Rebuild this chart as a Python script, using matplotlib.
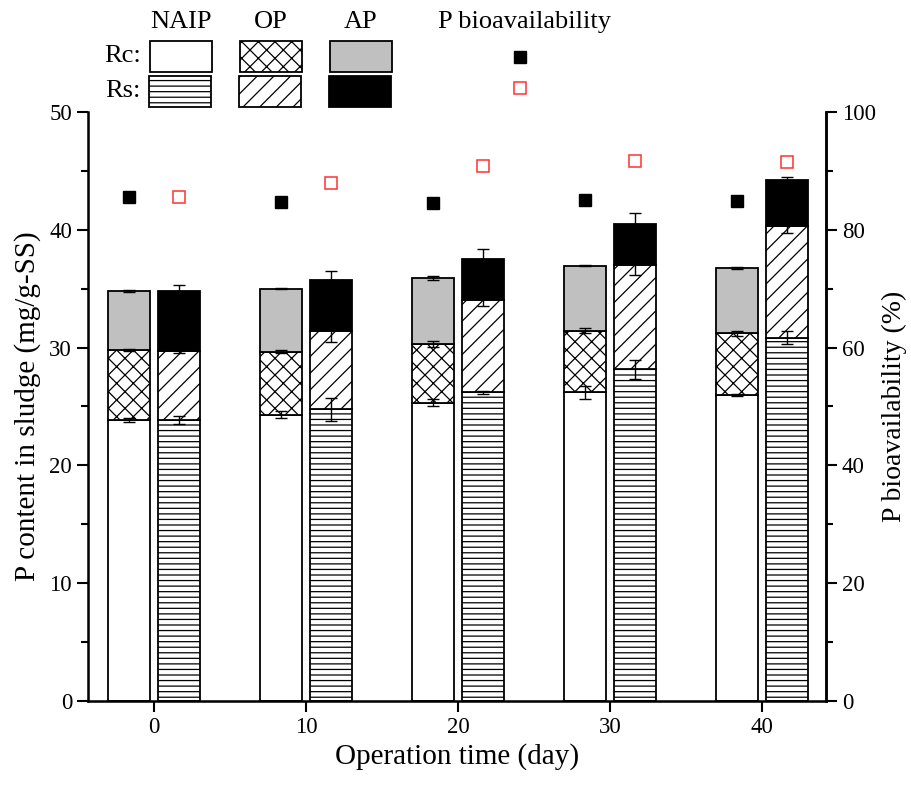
"""
Stacked P fractions in sludge (Rc vs Rs) with P bioavailability on a twin axis
"""

import numpy as np
import matplotlib
matplotlib.use('Agg')
import matplotlib.pyplot as plt
import matplotlib.patches as patches
from matplotlib.lines import Line2D
from matplotlib.ticker import MultipleLocator

plt.rcParams['font.family'] = ['Liberation Serif', 'DejaVu Serif']
plt.rcParams['hatch.linewidth'] = 0.9

# Data (mg/g-SS)
days = np.array([0, 10, 20, 30, 40])

rc_naip = [23.85, 24.3, 25.3, 26.2, 26.0]
rc_op = [5.95, 5.35, 5.0, 5.25, 5.2]
rc_ap = [5.03, 5.35, 5.6, 5.5, 5.55]
rs_naip = [23.85, 24.76, 26.2, 28.15, 30.85]
rs_op = [5.85, 6.64, 7.8, 8.85, 9.5]
rs_ap = [5.13, 4.34, 3.5, 3.5, 3.85]

rc_naip_err = [0.15, 0.3, 0.3, 0.55, 0.1]
rc_op_err = [0.1, 0.15, 0.25, 0.25, 0.2]
rc_ap_err = [0.1, 0.05, 0.2, 0.05, 0.1]
rs_naip_err = [0.3, 1.0, 0.15, 0.8, 0.55]
rs_op_err = [0.2, 0.9, 0.5, 0.85, 0.6]
rs_ap_err = [0.5, 0.75, 0.85, 0.9, 0.25]

# P bioavailability (%)
rc_bio = [85.5, 84.7, 84.5, 85.1, 84.9]
rs_bio = [85.5, 88.0, 90.8, 91.6, 91.5]

fig = plt.figure(figsize=(9.11, 7.87), dpi=100)
ax = fig.add_axes([0.0966, 0.1093, 0.8101, 0.7484])

width = 2.75
off = 1.65
edge = dict(edgecolor='black', linewidth=1.3)

# Rc stack
x_rc = days - off
ax.bar(x_rc, rc_naip, width, color='white', **edge, zorder=2)
ax.bar(x_rc, rc_op, width, bottom=rc_naip, color='white', hatch='xx', **edge, zorder=2)
rc_cum = np.array(rc_naip) + np.array(rc_op)
ax.bar(x_rc, rc_ap, width, bottom=rc_cum, color='#c0c0c0', **edge, zorder=2)

# Rs stack
x_rs = days + off
ax.bar(x_rs, rs_naip, width, color='white', hatch='---', **edge, zorder=2)
ax.bar(x_rs, rs_op, width, bottom=rs_naip, color='white', hatch='//', **edge, zorder=2)
rs_cum = np.array(rs_naip) + np.array(rs_op)
ax.bar(x_rs, rs_ap, width, bottom=rs_cum, color='black', **edge, zorder=2)

# error bars at the top of each segment
eb = dict(fmt='none', ecolor='black', elinewidth=1.0, capsize=4, capthick=1.0, zorder=3)
ax.errorbar(x_rc, rc_naip, yerr=rc_naip_err, **eb)
ax.errorbar(x_rc, rc_cum, yerr=rc_op_err, **eb)
ax.errorbar(x_rc, rc_cum + np.array(rc_ap), yerr=rc_ap_err, **eb)
ax.errorbar(x_rs, rs_naip, yerr=rs_naip_err, **eb)
ax.errorbar(x_rs, rs_cum, yerr=rs_op_err, **eb)
ax.errorbar(x_rs, rs_cum + np.array(rs_ap), yerr=rs_ap_err, **eb)

ax.set_xlim(-4.34, 44.2)
ax.set_ylim(0, 50)
ax.set_xticks(days)
ax.yaxis.set_major_locator(MultipleLocator(10))
ax.yaxis.set_minor_locator(MultipleLocator(5))
ax.tick_params(axis='both', which='major', direction='out', length=8, width=1.5,
               labelsize=16.5)
ax.tick_params(axis='y', which='minor', direction='out', length=5, width=1.5)
ax.set_xlabel('Operation time (day)', fontsize=21, labelpad=4)
ax.set_ylabel('P content in sludge (mg/g-SS)', fontsize=21, labelpad=6)
ax.spines['top'].set_visible(False)
for s in ['left', 'right', 'bottom']:
    ax.spines[s].set_linewidth(1.8)

# bioavailability on the right axis
ax2 = ax.twinx()
ax2.plot(x_rc, rc_bio, 's', color='black', ms=9, linestyle='none', zorder=4)
ax2.plot(x_rs, rs_bio, 's', mfc='none', mec='#ff3030', mew=1.1, ms=9,
         linestyle='none', zorder=4)
ax2.set_ylim(0, 100)
ax2.yaxis.set_major_locator(MultipleLocator(20))
ax2.yaxis.set_minor_locator(MultipleLocator(10))
ax2.tick_params(axis='y', which='major', direction='out', length=8, width=1.5,
                labelsize=16.5)
ax2.tick_params(axis='y', which='minor', direction='out', length=5, width=1.5)
ax2.set_ylabel('P bioavailability (%)', fontsize=20, labelpad=4)
ax2.spines['top'].set_visible(False)
ax2.spines['right'].set_linewidth(1.8)

# table-style legend above the plot
W, H = 911.0, 787.0
def fx(px):
    return px / W
def fy(py):
    return 1 - py / H

for name, cx in [('NAIP', 181), ('OP', 271), ('AP', 361), ('P bioavailability', 524)]:
    fig.text(fx(cx), fy(22), name, ha='center', va='center', fontsize=19)
fig.text(fx(141), fy(56), 'Rc:', ha='right', va='center', fontsize=19)
fig.text(fx(141), fy(91), 'Rs:', ha='right', va='center', fontsize=19)

rc_styles = [dict(facecolor='white'), dict(facecolor='white', hatch='xx'),
             dict(facecolor='#c0c0c0')]
rs_styles = [dict(facecolor='white', hatch='---'), dict(facecolor='white', hatch='//'),
             dict(facecolor='black')]
for left, st in zip([150, 240, 330], rc_styles):
    fig.add_artist(patches.Rectangle((fx(left), fy(72)), fx(62), 31 / H,
                                     transform=fig.transFigure, edgecolor='black',
                                     linewidth=1.3, **st))
for left, st in zip([149, 239, 329], rs_styles):
    fig.add_artist(patches.Rectangle((fx(left), fy(107)), fx(62), 31 / H,
                                     transform=fig.transFigure, edgecolor='black',
                                     linewidth=1.3, **st))
fig.add_artist(Line2D([fx(520)], [fy(57)], marker='s', color='black', ms=9,
                      linestyle='none', transform=fig.transFigure))
fig.add_artist(Line2D([fx(520)], [fy(88)], marker='s', mfc='none', mec='#ff3030',
                      mew=1.1, ms=9, linestyle='none', transform=fig.transFigure))

plt.savefig('out.png', dpi=100)
plt.close()
